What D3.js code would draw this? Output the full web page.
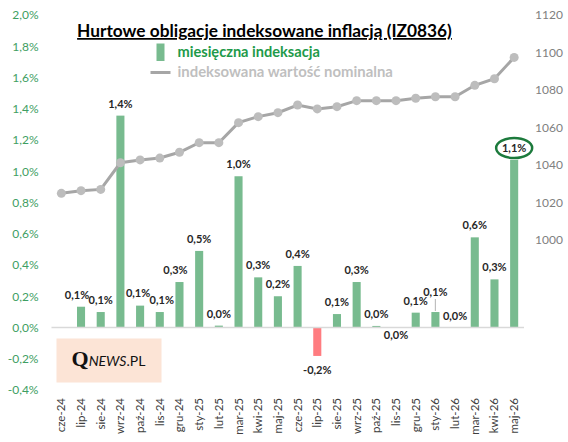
<!DOCTYPE html>
<html>
<head>
<meta charset="utf-8">
<script src="https://cdn.jsdelivr.net/npm/d3@7"></script>
<style>
  body { margin: 0; background: #fff; }
  svg { font-family: Lato, "Open Sans", sans-serif; }
</style>
</head>
<body>
<div id="chart"></div>
<script>
// months on the x axis
var months = ["cze-24", "lip-24", "sie-24", "wrz-24", "paź-24", "lis-24", "gru-24", "sty-25",
    "lut-25", "mar-25", "kwi-25", "maj-25", "cze-25", "lip-25", "sie-25", "wrz-25",
    "paź-25", "lis-25", "gru-25", "sty-26", "lut-26", "mar-26", "kwi-26", "maj-26"];

// monthly indexation, % (null = no bar)
var indexation = [null, 0.133, 0.099, 1.356, 0.14, 0.099, 0.291, 0.49,
    0.012, 0.968, 0.321, 0.2, 0.394, -0.182, 0.086, 0.291,
    0.01, 0, 0.095, 0.099, 0, 0.577, 0.308, 1.072];

// indexed nominal value
var nominal = [1024.9, 1026.3, 1027.0, 1041.2, 1042.7, 1043.7, 1046.8, 1051.9,
    1051.9, 1062.6, 1065.8, 1067.9, 1072.0, 1069.9, 1071.1, 1074.3,
    1074.3, 1074.3, 1075.6, 1076.4, 1076.4, 1082.5, 1086.0, 1097.4];

var leftTicks = [-0.4, -0.2, 0, 0.2, 0.4, 0.6, 0.8, 1.0, 1.2, 1.4, 1.6, 1.8, 2.0];
var rightTicks = [1000, 1020, 1040, 1060, 1080, 1100, 1120];

// labels that were dragged by hand in the original
var labelNudge = {
    "lip-24": [-4, 0], "paź-24": [-2, -1], "lis-24": [2, 0], "gru-24": [-4, 0],
    "lis-25": [0, 19], "sty-26": [0, -8]
};

var width = 568, height = 442;
var plot = { left: 51.5, right: 524, top: 15, bottom: 390 };

var svg = d3.select("#chart").append("svg")
    .attr("width", width)
    .attr("height", height);

var x = d3.scaleBand()
    .domain(months)
    .range([plot.left, plot.right])
    .paddingInner(0.59)
    .paddingOuter(0.295);

var yL = d3.scaleLinear().domain([-0.4, 2.0]).range([plot.bottom, plot.top]);
var yR = d3.scaleLinear().domain([920, 1120]).range([plot.bottom, plot.top]);

var plLocale = d3.formatLocale({ decimal: ",", thousands: " ", grouping: [3], currency: ["", " zł"], minus: "-" });
var pct = function (v) { return plLocale.format(".1f")(v) + "%"; };

// logo box
var logo = svg.append("g").attr("transform", "translate(56.5,338.5)");
logo.append("rect")
    .attr("width", 105)
    .attr("height", 44)
    .attr("fill", "#FCE4D6");
var logoText = logo.append("text")
    .attr("x", 15)
    .attr("y", 27)
    .attr("fill", "#111");
logoText.append("tspan")
    .style("font-family", "'Liberation Serif', 'DejaVu Serif', serif")
    .style("font-weight", "bold")
    .style("font-size", "22px")
    .text("Q");
logoText.append("tspan")
    .style("font-style", "italic")
    .style("font-size", "14px")
    .text("NEWS");
logoText.append("tspan")
    .style("font-size", "14px")
    .text(".PL");

// left axis
svg.append("g")
    .attr("transform", "translate(" + plot.left + ",0)")
    .call(d3.axisLeft(yL).tickValues(leftTicks).tickFormat(pct).tickSize(0).tickPadding(13))
    .call(function (g) { g.select(".domain").remove(); })
    .selectAll("text")
    .attr("fill", "#3E9E62")
    .style("font-size", "12px")
    .style("font-family", "Lato, sans-serif");

// right axis
svg.append("g")
    .attr("transform", "translate(" + plot.right + ",0)")
    .call(d3.axisRight(yR).tickValues(rightTicks).tickFormat(d3.format("d")).tickSize(0).tickPadding(11))
    .call(function (g) { g.select(".domain").remove(); })
    .selectAll("text")
    .attr("fill", "#808080")
    .style("font-size", "12px")
    .style("font-family", "Lato, sans-serif");

// x labels, rotated
svg.append("g")
    .selectAll("text")
    .data(months)
    .enter()
    .append("text")
    .attr("transform", function (d) {
        return "translate(" + (x(d) + x.bandwidth() / 2 + 4) + ",398) rotate(-90)";
    })
    .attr("text-anchor", "end")
    .attr("fill", "#404040")
    .style("font-size", "11.5px")
    .text(function (d) { return d; });

// bars
var barData = months.map(function (m, i) { return { month: m, v: indexation[i] }; })
    .filter(function (d) { return d.v !== null; });

svg.append("g")
    .selectAll("rect")
    .data(barData)
    .enter()
    .append("rect")
    .attr("x", function (d) { return x(d.month); })
    .attr("width", x.bandwidth())
    .attr("y", function (d) { return yL(Math.max(0, d.v)); })
    .attr("height", function (d) { return Math.abs(yL(d.v) - yL(0)); })
    .attr("fill", function (d) { return d.v < 0 ? "#FF7C80" : "#78BB8F"; });

// zero line
svg.append("line")
    .attr("x1", plot.left)
    .attr("x2", plot.right)
    .attr("y1", yL(0))
    .attr("y2", yL(0))
    .attr("stroke", "#D9D9D9")
    .attr("stroke-width", 1.5);

// nominal value line
var lineData = months.map(function (m, i) { return { month: m, v: nominal[i] }; });
var cx = function (d) { return x(d.month) + x.bandwidth() / 2; };

svg.append("path")
    .datum(lineData)
    .attr("fill", "none")
    .attr("stroke", "#A6A6A6")
    .attr("stroke-width", 3)
    .attr("d", d3.line().x(cx).y(function (d) { return yR(d.v); }));

svg.append("g")
    .selectAll("circle")
    .data(lineData)
    .enter()
    .append("circle")
    .attr("cx", cx)
    .attr("cy", function (d) { return yR(d.v); })
    .attr("r", 4.5)
    .attr("fill", "#BDBDBD");

// bar labels
var labelPos = function (d) {
    var n = labelNudge[d.month] || [0, 0];
    var y = d.v < 0 ? yL(d.v) + 18 : yL(d.v) - 8;
    return [cx(d) + n[0], y + n[1]];
};

svg.append("g")
    .selectAll("text")
    .data(barData)
    .enter()
    .append("text")
    .attr("x", function (d) { return labelPos(d)[0]; })
    .attr("y", function (d) { return labelPos(d)[1]; })
    .attr("text-anchor", "middle")
    .attr("fill", "#262626")
    .style("font-size", "11px")
    .style("font-weight", "bold")
    .text(function (d) { return pct(d.v); });

// leader line for the moved sty-26 label
var sty = barData.filter(function (d) { return d.month === "sty-26"; })[0];
svg.append("line")
    .attr("x1", cx(sty))
    .attr("x2", cx(sty))
    .attr("y1", labelPos(sty)[1] + 3)
    .attr("y2", yL(sty.v) - 1)
    .attr("stroke", "#BFBFBF")
    .attr("stroke-width", 1.2);

// circle around the last label
var last = barData[barData.length - 1];
svg.append("ellipse")
    .attr("cx", cx(last))
    .attr("cy", labelPos(last)[1] - 4)
    .attr("rx", 18)
    .attr("ry", 10)
    .attr("fill", "none")
    .attr("stroke", "#1C7A3C")
    .attr("stroke-width", 2.5);

// title
svg.append("text")
    .attr("x", 264.5)
    .attr("y", 37)
    .attr("text-anchor", "middle")
    .attr("fill", "#000")
    .attr("text-decoration", "underline")
    .style("font-size", "17.3px")
    .style("font-weight", "bold")
    .text("Hurtowe obligacje indeksowane inflacją (IZ0836)");

// legend
var legend = svg.append("g");
legend.append("rect")
    .attr("x", 156.5)
    .attr("y", 43.5)
    .attr("width", 8)
    .attr("height", 17.5)
    .attr("fill", "#78BB8F");
legend.append("text")
    .attr("x", 177.5)
    .attr("y", 56.5)
    .attr("fill", "#1E9A4A")
    .style("font-size", "14.6px")
    .style("font-weight", "bold")
    .text("miesięczna indeksacja");
legend.append("line")
    .attr("x1", 150.5)
    .attr("x2", 170.5)
    .attr("y1", 72.5)
    .attr("y2", 72.5)
    .attr("stroke", "#A6A6A6")
    .attr("stroke-width", 3);
legend.append("text")
    .attr("x", 177.5)
    .attr("y", 77)
    .attr("fill", "#BFBFBF")
    .style("font-size", "14.9px")
    .style("font-weight", "bold")
    .text("indeksowana wartość nominalna");
</script>
</body>
</html>
